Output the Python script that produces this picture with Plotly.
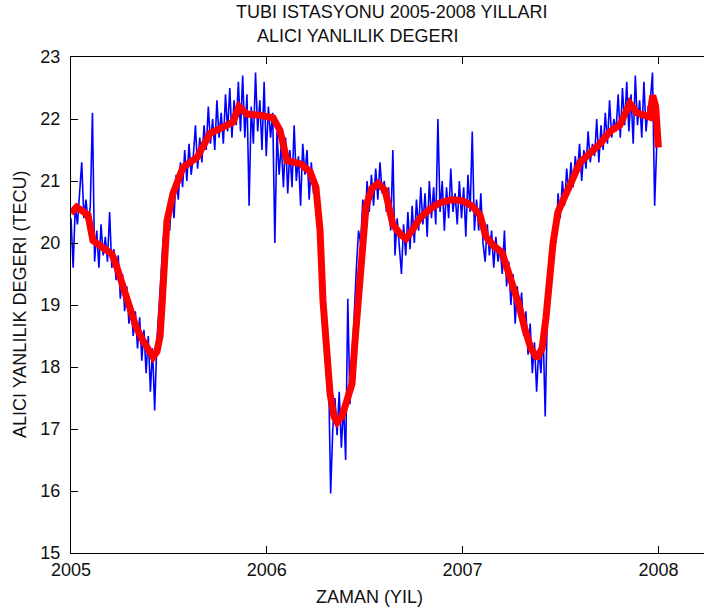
import plotly.graph_objects as go

# --- Receiver bias series for the TUBI station, 2005-2008 ---
# Blue: raw receiver bias values, sampled every 4 days from 2005.0
RAW_START_YEAR = 2005.0
RAW_STEP_DAYS = 4
raw_bias = [
    20.4, 19.6, 20.6, 20.3, 20.8, 21.3, 20.4, 20.7, 20.3, 20.6,
    22.1, 19.7, 20.2, 19.6, 20.3, 19.8, 20.1, 19.7, 20.5, 19.6,
    19.9, 19.4, 19.8, 19.1, 19.5, 18.9, 19.3, 18.7, 19.0, 18.5,
    18.9, 18.3, 18.8, 18.1, 18.6, 17.9, 18.5, 17.6, 18.3, 17.3,
    18.4, 18.9, 19.5, 20.1, 19.7, 20.5, 20.2, 20.8, 20.4, 21.1,
    20.7, 21.3, 20.9, 21.5, 21.0, 21.6, 21.1, 21.4, 21.9, 21.2,
    21.7, 21.3, 21.9, 21.5, 22.2, 21.6, 22.0, 21.5, 22.3, 21.7,
    22.1, 21.6, 22.4, 21.8, 22.5, 21.7, 22.3, 21.9, 22.6, 21.8,
    22.7, 21.7, 22.4, 20.6, 22.2, 21.6, 22.75, 21.8, 22.3, 21.5,
    22.6, 21.4, 22.2, 21.7, 22.1, 20.0, 21.8, 21.1, 21.6, 20.9,
    21.7, 20.8, 21.5, 20.9, 21.9, 21.0, 21.4, 20.6, 21.6, 21.1,
    21.5, 20.7, 21.3, 20.8, 21.0, 20.5, 20.6, 19.8, 19.3, 18.3,
    18.0, 15.96, 17.0, 17.5, 16.9, 17.6, 16.7, 17.4, 16.5, 19.1,
    17.4, 18.1, 18.9, 19.6, 20.2, 20.0, 20.7, 20.3, 21.0, 20.5,
    21.1, 20.6, 21.2, 20.7, 21.3, 20.8, 21.0, 20.5, 20.9, 20.2,
    21.5, 19.8, 20.4, 20.0, 19.5, 20.3, 19.8, 20.5, 19.9, 20.6,
    20.0, 20.7, 20.2, 20.9, 20.3, 20.8, 20.1, 21.0, 20.4, 20.9,
    20.3, 22.0, 20.5, 21.0, 20.2, 20.9, 20.4, 21.2, 20.5, 20.8,
    20.3, 21.0, 20.4, 20.9, 20.1, 21.1, 20.5, 21.8, 20.2, 20.7,
    20.2, 20.8, 20.0, 19.7, 20.3, 19.8, 20.2, 19.6, 20.1, 19.7,
    19.9, 19.5, 20.2, 19.3, 19.7, 19.0, 19.5, 18.7, 19.3, 18.8,
    19.2, 18.5, 18.9, 18.2, 18.7, 17.9, 18.4, 17.6, 18.3, 17.9,
    18.6, 17.2, 18.9, 19.8, 19.4, 20.3, 20.0, 20.8, 20.4, 21.0,
    20.6, 21.2, 20.8, 21.3, 20.9, 21.4, 21.1, 21.6, 21.0, 21.5,
    21.2, 21.8, 21.3, 21.6, 21.4, 22.0, 21.3, 21.9, 21.5, 22.1,
    21.6, 22.3, 21.7, 22.0, 21.8, 22.4, 21.7, 22.5, 21.9, 22.6,
    21.8, 22.4, 21.6, 22.7, 21.9, 22.3, 21.7, 22.6, 21.8, 22.2,
    22.3, 22.75, 20.6, 21.6,
]
raw_years = [RAW_START_YEAR + i * RAW_STEP_DAYS / 365.0 for i in range(len(raw_bias))]

# Red: smoothed receiver bias
smooth_years = [
    2005.000, 2005.029, 2005.056, 2005.087, 2005.112, 2005.148, 2005.184, 2005.209,
    2005.230, 2005.250, 2005.276, 2005.301, 2005.332, 2005.363, 2005.393, 2005.419,
    2005.439, 2005.455, 2005.465, 2005.475, 2005.490, 2005.521, 2005.572, 2005.644,
    2005.674, 2005.710, 2005.776, 2005.827, 2005.858, 2005.899, 2005.965, 2006.032,
    2006.067, 2006.103, 2006.170, 2006.221, 2006.251, 2006.272, 2006.287, 2006.307,
    2006.323, 2006.343, 2006.359, 2006.384, 2006.410, 2006.435, 2006.450, 2006.466,
    2006.486, 2006.507, 2006.537, 2006.568, 2006.604, 2006.624, 2006.644, 2006.680,
    2006.711, 2006.742, 2006.782, 2006.834, 2006.885, 2006.946, 2007.000, 2007.048,
    2007.089, 2007.119, 2007.160, 2007.201, 2007.227, 2007.257, 2007.288, 2007.319,
    2007.349, 2007.380, 2007.406, 2007.426, 2007.446, 2007.462, 2007.487, 2007.523,
    2007.559, 2007.600, 2007.651, 2007.702, 2007.753, 2007.803, 2007.854, 2007.890,
    2007.956, 2007.971, 2007.986, 2007.995, 2008.000,
]
smooth_bias = [
    20.48, 20.58, 20.52, 20.45, 20.04, 19.97, 19.90, 19.82,
    19.65, 19.45, 19.15, 18.90, 18.65, 18.45, 18.30, 18.16,
    18.25, 18.50, 19.00, 19.80, 20.36, 20.80, 21.22, 21.38,
    21.55, 21.77, 21.87, 21.95, 22.20, 22.08, 22.06, 22.02,
    21.82, 21.33, 21.28, 21.15, 20.90, 20.20, 19.07, 18.20,
    17.57, 17.20, 17.11, 17.20, 17.50, 17.73, 18.40, 19.07,
    20.00, 20.60, 20.88, 20.96, 20.85, 20.60, 20.30, 20.15,
    20.07, 20.20, 20.40, 20.55, 20.65, 20.70, 20.68, 20.60,
    20.45, 20.10, 19.95, 19.85, 19.60, 19.30, 19.00, 18.60,
    18.30, 18.14, 18.30, 18.80, 19.50, 20.00, 20.50, 20.75,
    21.00, 21.30, 21.45, 21.60, 21.80, 21.90, 22.25, 22.10,
    22.03, 22.38, 22.20, 21.77, 21.54,
]

year_ticks = [2005, 2006, 2007, 2008]
bias_ticks = [15, 16, 17, 18, 19, 20, 21, 22, 23]

title_line1 = "TUBI ISTASYONU 2005-2008 YILLARI"
title_line2 = "ALICI YANLILIK DEGERI"
x_title = "ZAMAN (YIL)"
y_title = "ALICI YANLILIK DEGERI (TECU)"

# --- Layout geometry (pixels) ---
W, H = 704, 613
ML, MR, MT, MB = 71, 0, 57, 60
PX_PER_YEAR = 195.8
plot_w = W - ML - MR
plot_h = H - MT - MB


def px_to_paper(px, py):
    return (px - ML) / plot_w, (H - MB - py) / plot_h


FONT = "Liberation Sans, Arial, sans-serif"
TXT = "#111111"

fig = go.Figure()
fig.add_trace(go.Scatter(
    x=raw_years, y=raw_bias, mode="lines",
    line=dict(color="#0000ff", width=1.6),
    showlegend=False, hoverinfo="skip",
))
fig.add_trace(go.Scatter(
    x=smooth_years, y=smooth_bias, mode="lines",
    line=dict(color="#ff0000", width=7),
    showlegend=False, hoverinfo="skip",
))

annotations = []
for text, (px, py), angle in [
    (title_line1, (391, 12), 0),
    (title_line2, (357, 36), 0),
    (x_title, (369, 597), 0),
    (y_title, (20, 305), -90),
]:
    xp, yp = px_to_paper(px, py)
    annotations.append(dict(
        text=text, x=xp, y=yp, xref="paper", yref="paper",
        xanchor="center", yanchor="middle", showarrow=False,
        textangle=angle, font=dict(family=FONT, size=18, color=TXT),
    ))

fig.update_layout(
    width=W, height=H,
    margin=dict(l=ML, r=MR, t=MT, b=MB, pad=0),
    paper_bgcolor="white", plot_bgcolor="white",
    annotations=annotations,
    font=dict(family=FONT, size=18, color=TXT),
)
fig.update_xaxes(
    range=[2005, 2005 + plot_w / PX_PER_YEAR],
    tickvals=year_ticks, ticktext=[str(v) for v in year_ticks],
    ticks="inside", ticklen=7, tickwidth=1, tickcolor="#000",
    showline=True, linecolor="#000", linewidth=1, mirror="ticks",
    showgrid=False, zeroline=False, ticklabelstandoff=0,
)
fig.update_yaxes(
    range=[15, 23],
    tickvals=bias_ticks, ticktext=[str(v) for v in bias_ticks],
    ticks="inside", ticklen=7, tickwidth=1, tickcolor="#000",
    showline=True, linecolor="#000", linewidth=1, mirror=False,
    showgrid=False, zeroline=False, ticklabelstandoff=6,
)

fig.write_html("out.html")
